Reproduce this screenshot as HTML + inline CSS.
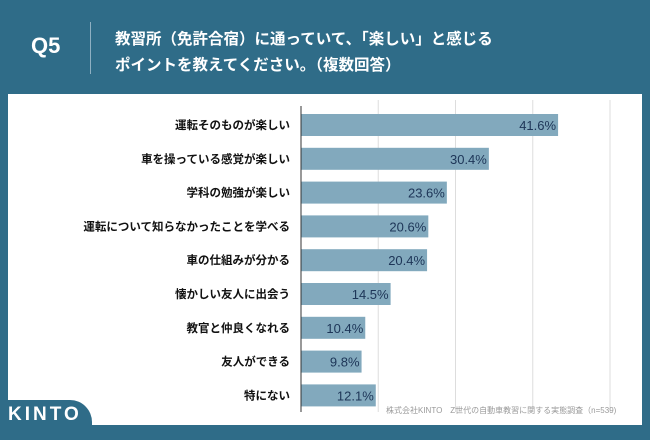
<!DOCTYPE html>
<html><head><meta charset="utf-8"><style>
body{margin:0;width:650px;height:434px;background:#2f6c88;position:relative;overflow:hidden;font-family:"Liberation Sans","Noto Sans CJK JP",sans-serif}
.hd{position:absolute;color:#fff;font-weight:bold}
</style></head><body>
<div class="hd" style="left:31px;top:33px;font-size:22px">Q5</div>
<div style="position:absolute;left:90px;top:22px;width:1px;height:52px;background:#8fb0c2"></div>
<div class="hd" style="left:115px;top:27px;font-size:15.5px;line-height:26px">教習所（免許合宿）に通っていて、「楽しい」と感じる<br>ポイントを教えてください。（複数回答）</div>
<div style="position:absolute;left:8px;top:94px;width:634px;height:331px;background:#fff"></div>
<svg id="c" width="650" height="434" style="position:absolute;left:0;top:0"></svg>
<div style="position:absolute;left:0;top:400px;width:92px;height:40px;background:#2f6c88;border-top-right-radius:22px"></div>
<div style="position:absolute;left:8px;top:404px;color:#fff;font-size:19px;font-weight:bold;letter-spacing:3px">KINTO</div>
<div style="position:absolute;left:386px;top:405px;color:#999;font-size:8px;white-space:nowrap">株式会社KINTO　Z世代の自動車教習に関する実態調査（n=539)</div>
<script>
const categories=["運転そのものが楽しい","車を操っている感覚が楽しい","学科の勉強が楽しい","運転について知らなかったことを学べる","車の仕組みが分かる","懐かしい友人に出会う","教官と仲良くなれる","友人ができる","特にない"];
const values=[41.6,30.4,23.6,20.6,20.4,14.5,10.4,9.8,12.1];
const gridTicks=[12.5,25,37.5,50];
const svg=document.getElementById('c');const NS='http://www.w3.org/2000/svg';
const x0=301,pxPer=6.18,y0=125,step=33.8,bh=22;
const xs=v=>x0+v*pxPer, ys=i=>y0+i*step;
function mk(t,a){const e=document.createElementNS(NS,t);for(const k in a)e.setAttribute(k,a[k]);svg.appendChild(e);return e;}
gridTicks.forEach(g=>{const l=mk('line',{x1:xs(g),x2:xs(g),y1:100,y2:412,stroke:'#ddd','stroke-width':1});

});
categories.forEach((c,i)=>{const v=values[i];
const r=mk('rect',{x:x0,y:ys(i)-bh/2,width:v*pxPer,height:bh,fill:'#82a9bd'});


const t=mk('text',{x:xs(v)-2,y:ys(i)+5,'text-anchor':'end','font-size':13,fill:'#1d3557'});t.textContent=v.toFixed(1)+'%';


const lb=mk('text',{x:290,y:ys(i)+4,'text-anchor':'end','font-size':11.5,'font-weight':'bold',fill:'#111'});lb.textContent=c;

});
const ax=mk('line',{x1:x0,x2:x0,y1:106,y2:412,stroke:'#333','stroke-width':1});


</script>
</body></html>
